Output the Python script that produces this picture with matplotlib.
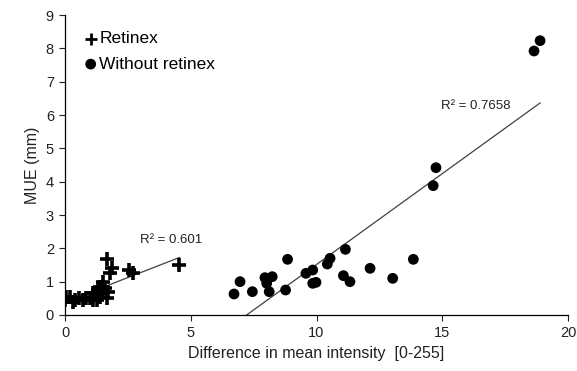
import numpy as np
import matplotlib
matplotlib.use('Agg')
import matplotlib.pyplot as plt

plt.rcParams['font.family'] = ['Liberation Sans', 'DejaVu Sans']

# Retinex points (difference in mean intensity, MUE)
ret_x = [-0.07, 0.0, 0.05, 0.2, 0.3, 0.4, 0.55, 0.73, 0.85, 0.99, 1.1, 1.13, 1.26, 1.3,
         1.39, 1.39, 1.46, 1.52, 1.59, 1.66, 1.68, 1.72, 1.79, 1.85, 2.54, 2.72, 4.55]
ret_y = [0.5, 0.45, 0.55, 0.55, 0.4, 0.45, 0.5, 0.45, 0.5, 0.5, 0.45, 0.65, 0.45, 0.75,
         0.85, 0.55, 0.7, 1.0, 0.8, 0.5, 1.67, 0.7, 1.25, 1.4, 1.35, 1.25, 1.5]

# Without retinex points
wo_x = [6.72, 6.96, 7.45, 7.95, 8.02, 8.12, 8.24, 8.77, 8.85, 9.58, 9.85, 9.85, 9.98,
        10.43, 10.54, 11.07, 11.15, 11.33, 12.13, 13.03, 13.85, 14.64, 14.75, 18.65, 18.89]
wo_y = [0.63, 1.0, 0.70, 1.12, 0.95, 0.70, 1.15, 0.75, 1.67, 1.25, 1.35, 0.95, 0.98,
        1.53, 1.70, 1.18, 1.97, 1.0, 1.40, 1.10, 1.67, 3.88, 4.42, 7.92, 8.23]

fig = plt.figure(figsize=(5.77, 3.71), dpi=100)
ax = fig.add_axes([65/577, 1-315/371, 503/577, 300/371])

ax.scatter(ret_x, ret_y, marker='+', s=110, linewidths=2.6, color='black',
           label='Retinex', zorder=3)
ax.scatter(wo_x, wo_y, marker='o', s=60, color='black', edgecolors='none',
           label='Without retinex', zorder=3)

# linear trendlines
p1 = np.polyfit(ret_x, ret_y, 1)
xr = np.array([min(ret_x), max(ret_x)])
ax.plot(xr, np.polyval(p1, xr), color='#404040', lw=0.9, zorder=2)

p2 = np.polyfit(wo_x, wo_y, 1)
x0 = -p2[1] / p2[0]
xw = np.array([x0, max(wo_x)])
ax.plot(xw, np.polyval(p2, xw), color='#404040', lw=0.9, zorder=2)

ax.text(3.0, 2.17, 'R² = 0.601', fontsize=9.5, color='#222222')
ax.text(14.95, 6.17, 'R² = 0.7658', fontsize=9.5, color='#222222')

ax.set_xlim(0, 20)
ax.set_ylim(0, 9)
ax.set_xticks([0, 5, 10, 15, 20])
ax.set_yticks(range(0, 10))
ax.tick_params(direction='out', length=4.5, width=0.8, labelsize=10.5,
               colors='#222222')
for s in ['top', 'right']:
    ax.spines[s].set_visible(False)
for s in ['left', 'bottom']:
    ax.spines[s].set_color('black')
    ax.spines[s].set_linewidth(0.9)

ax.set_xlabel('Difference in mean intensity  [0-255]', fontsize=11.5, color='#222222')
ax.set_ylabel('MUE (mm)', fontsize=11.5, color='#222222')

leg = ax.legend(loc='upper left', frameon=False, fontsize=12.5, handletextpad=0.0,
                borderaxespad=0.0, labelspacing=0.6, handlelength=1.0,
                bbox_to_anchor=(0.02, 0.97))
leg.legend_handles[0].set_sizes([70])
leg.legend_handles[0].set_linewidths([2.0])
leg.legend_handles[1].set_sizes([60])

plt.savefig('out.png', dpi=100)
